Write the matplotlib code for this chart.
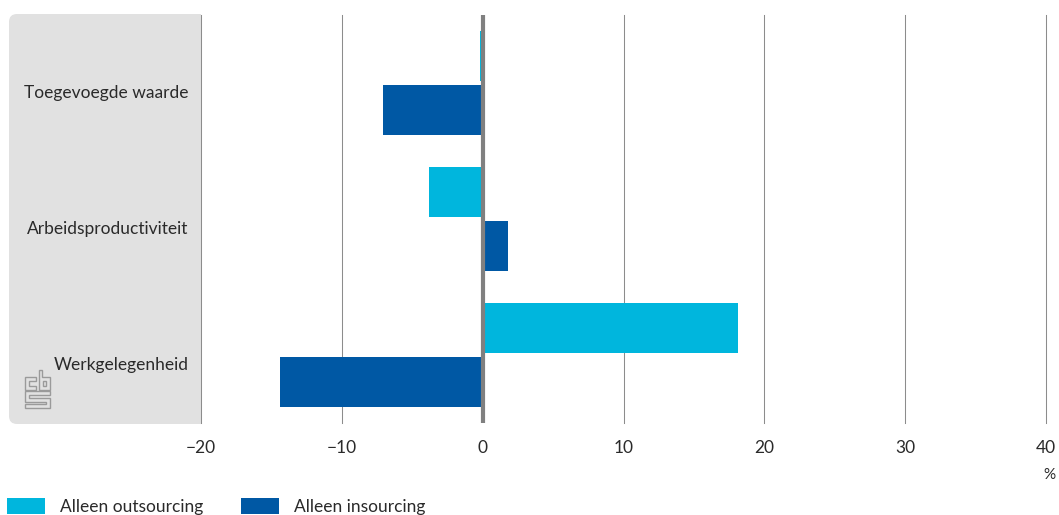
import matplotlib
matplotlib.use('Agg')
import matplotlib.pyplot as plt
from matplotlib.patches import FancyBboxPatch, Rectangle, Polygon

categories = ['Toegevoegde waarde', 'Arbeidsproductiviteit', 'Werkgelegenheid']
outsourcing = [-0.2, -3.8, 18.1]
insourcing = [-7.1, 1.8, -14.4]
xticks = [-20, -10, 0, 10, 20, 30, 40]
xticklabels = ['\u221220', '\u221210', '0', '10', '20', '30', '40']

W, H = 1059, 515
LIGHT = '#00b6dd'
DARK = '#0058a4'
GRID = '#8c8c8c'
TEXT = '#2a2a2a'

plt.rcParams['font.family'] = ['Lato', 'DejaVu Sans']
plt.rcParams['font.size'] = 12.5

fig = plt.figure(figsize=(W / 100, H / 100), dpi=100)

# overlay in pixel coordinates, for the panel, logo and legend
bg = fig.add_axes([0, 0, 1, 1], zorder=0)
bg.set_xlim(0, W)
bg.set_ylim(H, 0)
bg.axis('off')
bg.add_patch(FancyBboxPatch((17, 22), 176, 394, boxstyle='round,pad=8,rounding_size=8',
                            fc='#e1e1e1', ec='none'))
bg.add_patch(Rectangle((150, 14), 51, 410, fc='#e1e1e1', ec='none'))

# cbs logo, letters as closed outlines
logo = [
    [(25, 377), (36, 377), (36, 381), (29, 381), (29, 386), (36, 386), (36, 390), (25, 390)],
    [(39, 370), (42, 370), (42, 377), (50, 377), (50, 390), (39, 390)],
    [(43, 381), (46, 381), (46, 386), (43, 386)],
    [(25, 391), (50, 391), (50, 395), (29, 395), (29, 397.5), (50, 397.5), (50, 408), (25, 408),
     (25, 404), (46, 404), (46, 401.5), (25, 401.5)],
]
for pts in logo:
    bg.add_patch(Polygon(pts, closed=True, fc='none', ec='#9a9a9a', lw=1.0, joinstyle='miter'))

ax = fig.add_axes([201 / W, 1 - 423 / H, (1046 - 201) / W, (423 - 15) / H], zorder=1)
ax.patch.set_alpha(0)
ax.set_xlim(-20, 40)
ax.set_ylim(2.5, -0.5)

ypos = list(range(len(categories)))
bar_h = 50 / 136
off = 27 / 136
ax.barh([y - off for y in ypos], outsourcing, height=bar_h, color=LIGHT, zorder=2)
ax.barh([y + off for y in ypos], insourcing, height=bar_h, color=DARK, zorder=2)

for x in xticks:
    if x == 0:
        ax.axvline(x, color='#808080', lw=3, zorder=3)
    else:
        ax.axvline(x, color=GRID, lw=0.75, zorder=1, clip_on=False)

for s in ax.spines.values():
    s.set_visible(False)
ax.set_xticks(xticks)
ax.set_xticklabels(xticklabels, color=TEXT)
ax.tick_params(axis='x', length=0, pad=12)
# labels sit a little under the centre of each group
ax.set_yticks([y + 0.064 for y in ypos])
ax.set_yticklabels(categories, color=TEXT)
ax.tick_params(axis='y', length=0, pad=9)

bg.text(1056, 475, '%', ha='right', va='center', color=TEXT, fontsize=11)

# legend
bg.add_patch(Rectangle((7, 498), 38, 16, fc=LIGHT, ec='none'))
bg.text(60, 507, 'Alleen outsourcing', va='center', color=TEXT)
bg.add_patch(Rectangle((241, 498), 38, 16, fc=DARK, ec='none'))
bg.text(294, 507, 'Alleen insourcing', va='center', color=TEXT)

fig.savefig('out.png', dpi=100)
